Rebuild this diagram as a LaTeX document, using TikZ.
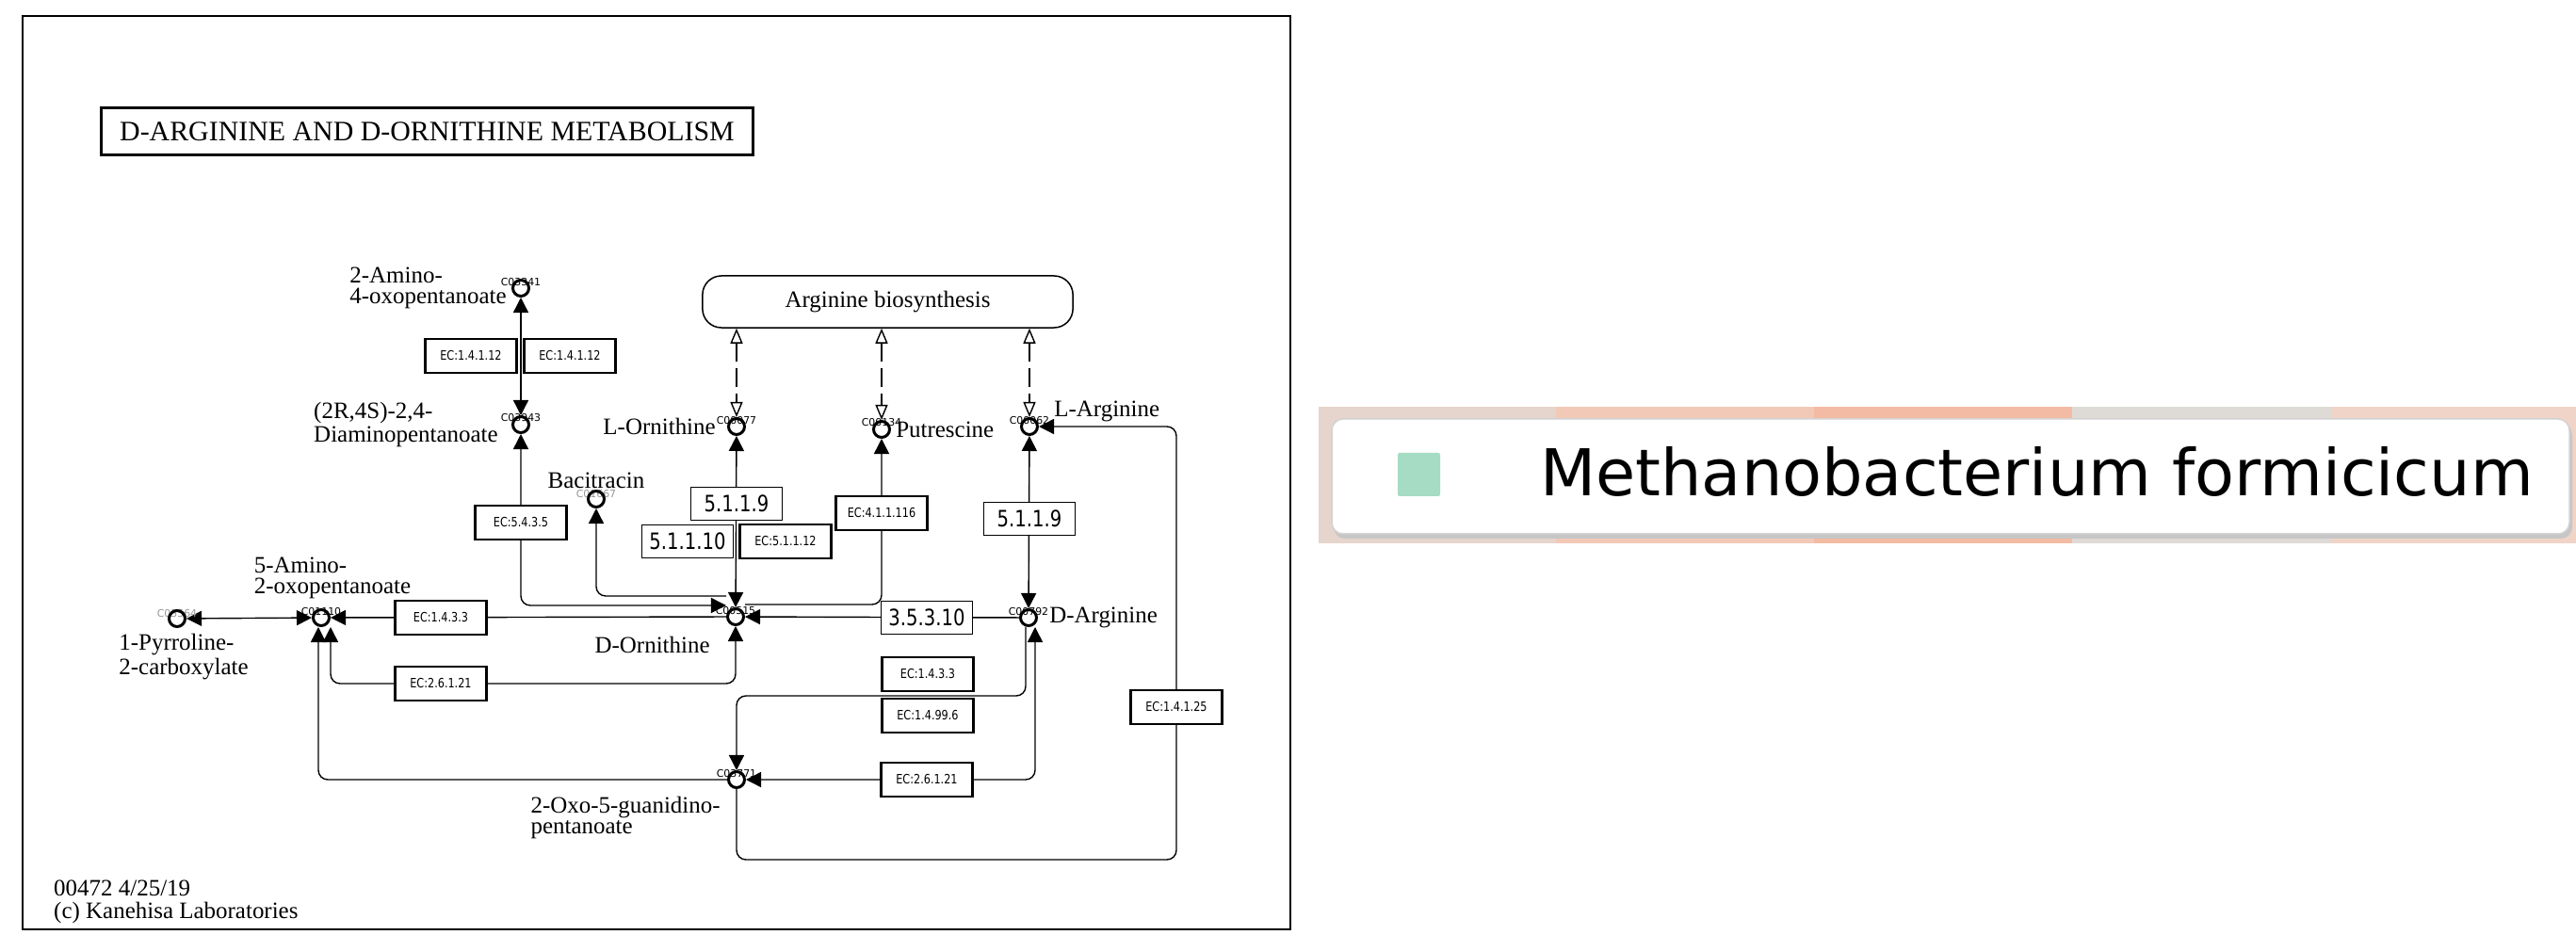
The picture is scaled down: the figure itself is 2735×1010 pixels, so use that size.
\documentclass[tikz,border=0pt]{standalone}
\usepackage{fontspec}
\setmainfont{Liberation Serif}
\newfontfamily\ecfont[FakeStretch=0.82]{DejaVu Sans}
\newfontfamily\idfont{DejaVu Sans}
\usepackage{tikz}
\usetikzlibrary{arrows.meta,shapes,positioning,backgrounds}
\definecolor{idgray}{RGB}{150,150,150}
\definecolor{bandA}{RGB}{230,213,204}
\definecolor{bandB}{RGB}{242,201,183}
\definecolor{bandC}{RGB}{243,187,163}
\definecolor{bandD}{RGB}{222,218,214}
\definecolor{bandE}{RGB}{239,212,199}
\definecolor{orggreen}{RGB}{166,220,196}

\begin{document}
\begin{tikzpicture}[x=0.01cm, y=-0.01cm, line width=0.025cm, >={Triangle[length=0.16cm,width=0.16cm]}]
\tikzstyle{compound}=[draw, shape=circle, minimum size=0.17cm, inner sep=0pt, line width=0.03cm]
\tikzstyle{cid}=[inner sep=0pt, font=\idfont\fontsize{3.1}{3.3}\selectfont]
\tikzstyle{cname}=[inner sep=0pt, align=left, font=\fontsize{7.1}{6.1}\selectfont]
\tikzstyle{enzyme}=[draw, shape=rectangle, fill=white, minimum width=0.97cm, minimum height=0.36cm, inner sep=0pt, line width=0.028cm, font=\ecfont\fontsize{3.9}{4.2}\selectfont]
\tikzstyle{ecnum}=[draw, shape=rectangle, fill=white, minimum width=0.97cm, minimum height=0.35cm, inner sep=0pt, line width=0.015cm, font=\ecfont\fontsize{6.8}{7}\selectfont]
\tikzstyle{maplink}=[dash pattern=on 0.2cm off 0.07cm, {Triangle[open,length=0.16cm,width=0.13cm]}-{Triangle[open,length=0.16cm,width=0.13cm]}]
\useasboundingbox (0,0) rectangle (2735,1010);

% map frame and title
\draw[line width=0.025cm] (24,17) rectangle (1370,987);
\node[draw, line width=0.03cm, minimum width=6.91cm, minimum height=0.49cm, font=\fontsize{8.5}{9}\selectfont] (48) at (453.5,139.5) {D-ARGININE AND D-ORNITHINE METABOLISM};
\node[draw, rounded corners=0.2cm, minimum width=3.93cm, minimum height=0.55cm, line width=0.015cm, font=\fontsize{7.1}{7.5}\selectfont] (49) at (942.5,320.5) {Arginine biosynthesis};
\node[cname, anchor=north west, font=\fontsize{7.1}{6.8}\selectfont] (50) at (56,934) {00472 4/25/19\\(c) Kanehisa Laboratories};

% compound ids, then the circles
\node[cid] (37) at (553,300) {C03341};
\node[cid] (38) at (553,444) {C03943};
\node[cid, text=idgray] (39) at (633,525) {C01667};
\node[cid] (40) at (782,447) {C00077};
\node[cid] (41) at (936,449) {C00134};
\node[cid] (42) at (1093,447) {C00062};
\node[cid] (43) at (781,649) {C00515};
\node[cid] (44) at (1092,650) {C00792};
\node[cid] (45) at (341,650) {C01110};
\node[cid, text=idgray] (46) at (188,652) {C03564};
\node[cid] (47) at (782,822) {C03771};

\node[compound] (0) at (553,306) {};
\node[compound] (1) at (553,451) {};
\node[compound] (2) at (633,530) {};
\node[compound] (3) at (782,453) {};
\node[compound] (4) at (936,456) {};
\node[compound] (5) at (781,655) {};
\node[compound] (6) at (1093,453) {};
\node[compound] (7) at (1092,656) {};
\node[compound] (8) at (341,656) {};
\node[compound] (9) at (188,657) {};
\node[compound] (10) at (782,828) {};

% compound names
\node[cname] (26) [left=0.04cm of 0] {2-Amino-\\4-oxopentanoate};
\node[cname] (27) [left=0.13cm of 1] {(2R,4S)-2,4-\\Diaminopentanoate};
\node[cname] (28) [above=0.0cm of 2] {Bacitracin};
\node[cname] (29) [left=0.11cm of 3] {L-Ornithine};
\node[cname] (30) [right=0.04cm of 4] {Putrescine};
\node[cname] (31) [above right=-0.03cm and 0.18cm of 6] {L-Arginine};
\node[cname] (32) [below left=0.13cm and 0.19cm of 5] {D-Ornithine};
\node[cname] (33) [right=0.11cm of 7] {D-Arginine};
\node[cname] (34) [above=0.09cm of 8, xshift=0.12cm] {5-Amino-\\2-oxopentanoate};
\node[cname] (35) [below=0.05cm of 9, xshift=0.07cm] {1-Pyrroline-\\2-carboxylate};
\node[cname] (36) [below left=0.1cm and 0.09cm of 10] {2-Oxo-5-guanidino-\\pentanoate};

% enzymes
\node[enzyme] (11) at (500,378) {EC:1.4.1.12};
\node[enzyme] (12) at (605,378) {EC:1.4.1.12};
\node[enzyme] (13) at (553,555) {EC:5.4.3.5};
\node[ecnum] (14) at (782,535) {5.1.1.9};
\node[ecnum] (15) at (730,575) {5.1.1.10};
\node[enzyme] (16) at (834,575) {EC:5.1.1.12};
\node[enzyme] (17) at (936,545) {EC:4.1.1.116};
\node[ecnum] (18) at (1093,551) {5.1.1.9};
\node[enzyme] (19) at (468,656) {EC:1.4.3.3};
\node[enzyme] (20) at (468,726) {EC:2.6.1.21};
\node[ecnum] (21) at (984,656) {3.5.3.10};
\node[enzyme] (22) at (985,716) {EC:1.4.3.3};
\node[enzyme] (23) at (985,760) {EC:1.4.99.6};
\node[enzyme] (24) at (984,828) {EC:2.6.1.21};
\node[enzyme] (25) at (1249,751) {EC:1.4.1.25};

% reactions, behind the enzyme boxes
\begin{scope}[on background layer]
\draw[<->] (1) -- (0);
\draw[<->, rounded corners=0.1cm] ([yshift=0.12cm]5.west) -| (1);
\draw[->, rounded corners=0.1cm] ([yshift=0.22cm]5.west) -| (2);
\draw[<->] (3) -- (5);
\draw[->, rounded corners=0.1cm] ([yshift=0.13cm]5.east) -| (4);
\draw[<->] (6) -- (7);
\draw[->] (7) -- (5);
\draw[->] (5) -- (8);
\draw[<->] (9) -- (8);
\draw[<->, rounded corners=0.1cm] (5) -- (5 |- 20) -| ([xshift=0.1cm]8.south);
\draw[->, rounded corners=0.1cm] (10) -| ([xshift=-0.03cm]8.south);
\draw[->, rounded corners=0.1cm] ([xshift=-0.03cm]7.south) -- ++(0,73) -| (10);
\draw[<->, rounded corners=0.1cm] ([xshift=0.07cm]7.south) |- (10);
\draw[->, rounded corners=0.1cm] (10) -- ++(0,85) -| (25.center) |- (6);

% links to the arginine map
\draw[maplink] (3 |- 49.south) -- (3);
\draw[maplink] (4 |- 49.south) -- (4);
\draw[maplink] (6 |- 49.south) -- (6);
\end{scope}

% organism legend
\fill[bandA] (1400,432) rectangle (1652,577);
\fill[bandB] (1652,432) rectangle (1926,577);
\fill[bandC] (1926,432) rectangle (2200,577);
\fill[bandD] (2200,432) rectangle (2475,577);
\fill[bandE] (2475,432) rectangle (2735,577);
\fill[gray!45, rounded corners=0.12cm] (1416,450) rectangle (2731,572);
\draw[gray!35, fill=white, line width=0.015cm, rounded corners=0.12cm] (1414,445) rectangle (2728,567);
\fill[orggreen, rounded corners=0.02cm] (1484,481) rectangle (1529,527);
\node[anchor=base west, inner sep=0pt, font=\idfont\fontsize{19.5}{22}\selectfont] (51) at (1634,527) {Methanobacterium formicicum};
\end{tikzpicture}
\end{document}
